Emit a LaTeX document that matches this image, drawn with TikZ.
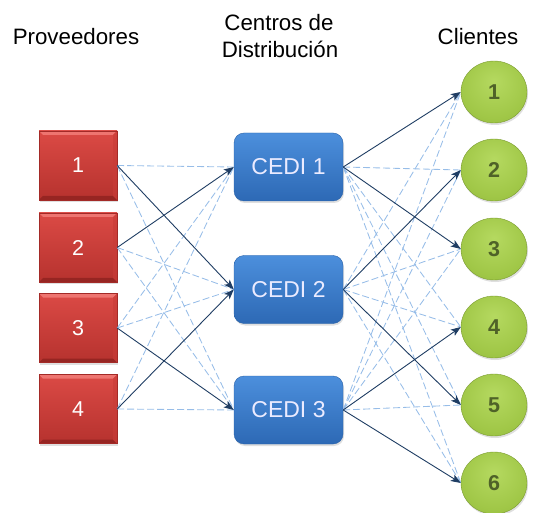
\documentclass[tikz,border=0pt]{standalone}
\usepackage{fontspec}
\setmainfont{Liberation Sans}
\usetikzlibrary{arrows.meta,shapes.geometric,shadows}

\definecolor{redtop}{HTML}{DB4A45}
\definecolor{redbot}{HTML}{B6322E}
\definecolor{redline}{HTML}{A32A27}
\definecolor{redlight}{HTML}{EE7570}
\definecolor{reddark}{HTML}{962522}
\definecolor{redside}{HTML}{C93C38}
\definecolor{bluetop}{HTML}{4C8FDC}
\definecolor{bluebot}{HTML}{2D69B5}
\definecolor{blueline}{HTML}{2A62A8}
\definecolor{ballA}{HTML}{B5D960}
\definecolor{ballB}{HTML}{A0C747}
\definecolor{ballC}{HTML}{8DB33A}
\definecolor{ballD}{HTML}{74962A}
\definecolor{greenline}{HTML}{7A9B30}
\definecolor{greentext}{HTML}{4F6228}
\definecolor{flowline}{HTML}{1F3D63}
\definecolor{altline}{HTML}{97BDE8}

% lit-from-above sphere look for the customer discs
\pgfdeclareradialshading{greenball}{\pgfpoint{0bp}{9bp}}{%
  color(0bp)=(ballA); color(26bp)=(ballB); color(44bp)=(ballC); color(60bp)=(ballD)}

\tikzset{
  softshadow/.style={drop shadow={opacity=0.25,shadow xshift=1pt,shadow yshift=-2pt}},
  supplier/.style={rectangle, minimum width=78pt, minimum height=69pt,
    top color=redtop, bottom color=redbot, draw=redline, line width=0.4pt,
    softshadow, text=white, font=\fontsize{21.5}{24}\selectfont,
    path picture={
      \fill[redlight] (path picture bounding box.north west) -- (path picture bounding box.north east)
        -- ([xshift=-4pt,yshift=-4pt]path picture bounding box.north east)
        -- ([xshift=4pt,yshift=-4pt]path picture bounding box.north west) -- cycle;
      \fill[reddark] (path picture bounding box.south west) -- (path picture bounding box.south east)
        -- ([xshift=-4pt,yshift=4pt]path picture bounding box.south east)
        -- ([xshift=4pt,yshift=4pt]path picture bounding box.south west) -- cycle;
      \fill[redside,opacity=0.6] (path picture bounding box.south east) -- (path picture bounding box.north east)
        -- ([xshift=-4pt,yshift=-4pt]path picture bounding box.north east)
        -- ([xshift=-4pt,yshift=4pt]path picture bounding box.south east) -- cycle;
    }},
  center/.style={rectangle, rounded corners=10pt, minimum width=109pt, minimum height=68pt,
    top color=bluetop, bottom color=bluebot, draw=blueline, line width=0.4pt,
    softshadow, text=white!92!blue, font=\fontsize{23}{26}\selectfont},
  client/.style={ellipse, minimum width=66pt, minimum height=62pt,
    shading=greenball, draw=greenline, line width=0.4pt,
    softshadow, text=greentext, font=\fontsize{21.5}{24}\selectfont\bfseries},
  heading/.style={font=\fontsize{22.3}{28}\selectfont, align=center, anchor=base},
  flow/.style={draw=flowline, line width=0.9pt, -{Stealth[length=10pt,width=7.5pt,inset=2.5pt]}},
  alt/.style={draw=altline, line width=0.85pt, dash pattern=on 7pt off 3pt},
}

\begin{document}
\begin{tikzpicture}[x=1pt,y=-1pt]
\useasboundingbox (0,0) rectangle (541,513);

% column headings
\node[heading] (hp) at (76,45) {Proveedores};
\node[heading] (hc1) at (279,31) {Centros de};
\node[heading] (hc2) at (280,58) {Distribución};
\node[heading] (hk) at (478,45) {Clientes};

% suppliers
\node[supplier] (p1) at (78,165.5) {1};
\node[supplier] (p2) at (78,247.5) {2};
\node[supplier] (p3) at (78,328) {3};
\node[supplier] (p4) at (78,409) {4};

% distribution centres
\node[center] (c1) at (288.5,167) {CEDI 1};
\node[center] (c2) at (288.5,289.5) {CEDI 2};
\node[center] (c3) at (288.5,410) {CEDI 3};

% customers
\node[client] (k1) at (494,92) {1};
\node[client] (k2) at (494,170) {2};
\node[client] (k3) at (494,249) {3};
\node[client] (k4) at (494,327) {4};
\node[client] (k5) at (494,405) {5};
\node[client] (k6) at (494,483) {6};

% unused supplier -> centre links
\foreach \p/\c in {p1/c1,p1/c3,p2/c2,p2/c3,p3/c1,p3/c2,p4/c1,p4/c3}
  \draw[alt] (\p.east) -- (\c.west);
% unused centre -> customer links
\foreach \c/\k in {c1/k2,c1/k4,c1/k5,c1/k6,c2/k1,c2/k3,c2/k4,c2/k6,c3/k1,c3/k2,c3/k3,c3/k5}
  \draw[alt] (\c.east) -- (\k.west);

% chosen supplier -> centre flows
\foreach \p/\c in {p1/c2,p2/c1,p3/c3,p4/c2}
  \draw[flow] (\p.east) -- (\c.west);
% chosen centre -> customer flows
\foreach \c/\k in {c1/k1,c1/k3,c2/k2,c2/k5,c3/k4,c3/k6}
  \draw[flow] (\c.east) -- (\k.west);
\end{tikzpicture}
\end{document}
